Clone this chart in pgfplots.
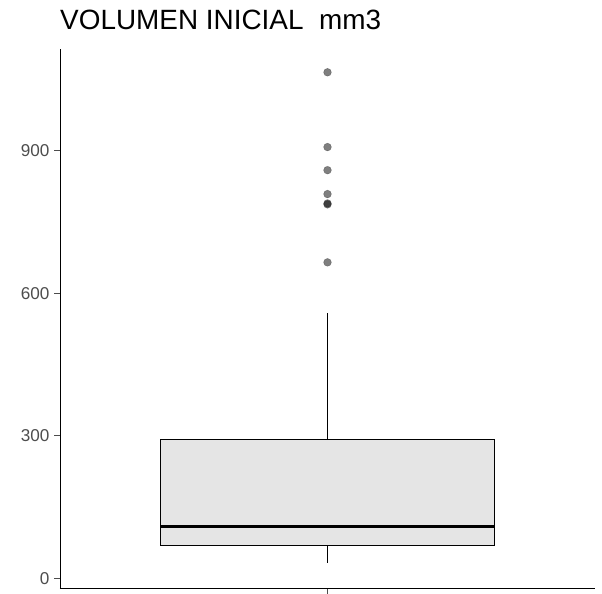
\documentclass[border=0pt]{standalone}
\usepackage{fontspec}
\setmainfont{Liberation Sans}
\usepackage{pgfplots}
\pgfplotsset{compat=1.18}
\usepgfplotslibrary{statistics}
\definecolor{boxfill}{HTML}{E5E5E5}
\definecolor{ticklab}{HTML}{4D4D4D}
\begin{document}
\begin{tikzpicture}
\begin{axis}[
 at={(0,0)}, anchor=south west,
 scale only axis, width=535bp, height=539.3bp,
 xmin=40, xmax=160, ymin=-21, ymax=1114,
 axis lines=left, axis line style={-, line width=0.9bp, black},
 ytick={0,300,600,900}, xtick={100}, xticklabels={},
 tick align=outside, major tick length=5.5bp,
 tick style={line width=0.9bp, ticklab},
 yticklabel style={font=\fontsize{17.2}{17.2}\selectfont, text=ticklab, xshift=-1.5bp},
 /pgf/number format/assume math mode=true,
 clip=false,
 boxplot/draw direction=y,
 boxplot/draw/lower whisker/.code={%
   \draw[/pgfplots/boxplot/every whisker/.try]
     (boxplot box cs:\pgfplotsboxplotvalue{lower whisker},0.5) --
     (boxplot box cs:\pgfplotsboxplotvalue{lower quartile},0.5);},
 boxplot/draw/upper whisker/.code={%
   \draw[/pgfplots/boxplot/every whisker/.try]
     (boxplot box cs:\pgfplotsboxplotvalue{upper quartile},0.5) --
     (boxplot box cs:\pgfplotsboxplotvalue{upper whisker},0.5);},
]
\addplot[draw=black, line width=0.9bp, fill=boxfill,
  boxplot prepared={lower whisker=32.4, lower quartile=68.8, median=108.8,
  upper quartile=293, upper whisker=558, draw position=100, box extend=75,
  every median/.style={line width=2.9bp}}]
  coordinates {};
\addplot[only marks, mark=*, mark size=3.9bp,
  mark options={draw=black, draw opacity=0.3, line width=0.5bp, fill=black, fill opacity=0.5}]
  coordinates {(100,1065) (100,907.6) (100,859) (100,808.7) (100,789) (100,787) (100,665)};
\node[anchor=base west, inner sep=0pt, font=\fontsize{28}{28}\selectfont]
  at ([yshift=19.5bp]rel axis cs:0,1) {VOLUMEN INICIAL\ \ mm3};
\end{axis}
\pgfresetboundingbox
\path (-60bp,-5.7bp) rectangle (542bp,588.3bp);
\end{tikzpicture}
\end{document}
